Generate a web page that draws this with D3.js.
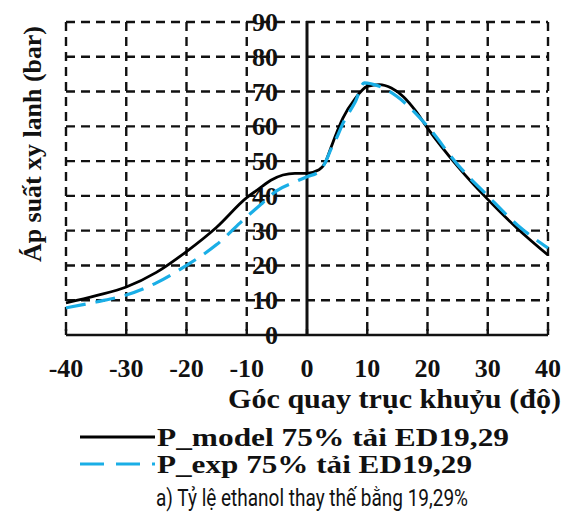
<!DOCTYPE html>
<html>
<head>
<meta charset="utf-8">
<script src="https://cdn.jsdelivr.net/npm/d3@7"></script>
<style>
  body { margin: 0; background: #fff; }
  svg text { font-family: "Liberation Serif", "Times New Roman", serif; font-weight: bold; fill: #111; }
  svg text.caption { font-family: Roboto, "Liberation Sans", sans-serif; font-weight: normal; }
</style>
</head>
<body>
<div id="chart"></div>
<script>
var width = 576;
var height = 518;

// crank angle (deg) and cylinder pressure (bar)
var modelAngle = [-40, -35, -30, -25, -20, -15, -10, -8, -6, -4, -2, 0, 2, 3, 4, 5, 6, 8, 10, 12, 14, 16, 18, 20, 25, 30, 35, 40];
var modelP     = [9.2, 11.3, 13.8, 18, 24, 31, 39.5, 42, 44.5, 46, 46.5, 46.5, 47.5, 49.5, 54, 58.5, 62.5, 68, 71.5, 72, 71, 68.5, 64.5, 59.5, 48.5, 39, 30.5, 23];
var expAngle   = [-40, -35, -30, -25, -20, -15, -10, -8, -5, -2, 0, 2, 3, 4, 5, 6, 8, 9.5, 12, 15, 20, 25, 30, 35, 40];
var expP       = [7.8, 9.5, 11.5, 15, 20, 26, 34, 37, 41.5, 44, 45.5, 47, 49.5, 53.5, 57, 61, 67, 72.5, 71.5, 68.5, 60, 49, 40, 31.5, 25];
var xTicks = [-40, -30, -20, -10, 0, 10, 20, 30, 40];
var yTicks = [0, 10, 20, 30, 40, 50, 60, 70, 80, 90];
var legendLabels = ["P_model 75% tải ED19,29", "P_exp 75% tải ED19,29"];

var svg = d3.select("#chart").append("svg")
    .attr("width", width)
    .attr("height", height);

var x = d3.scaleLinear().domain([-40, 40]).range([66, 548]);
var y = d3.scaleLinear().domain([0, 90]).range([335, 22]);

// dashed grid
var grid = svg.append("g").attr("stroke", "#111").attr("stroke-width", 2.4).attr("stroke-dasharray", "9,6");
grid.selectAll("line.v")
    .data(xTicks.filter(function(d) { return d !== 0; }))
    .enter().append("line")
    .attr("x1", function(d) { return x(d); })
    .attr("x2", function(d) { return x(d); })
    .attr("y1", y(90))
    .attr("y2", y(0));
grid.selectAll("line.h")
    .data(yTicks.filter(function(d) { return d !== 0; }))
    .enter().append("line")
    .attr("x1", x(-40))
    .attr("x2", x(40))
    .attr("y1", function(d) { return y(d); })
    .attr("y2", function(d) { return y(d); });

// bottom axis
svg.append("line")
    .attr("x1", x(-40)).attr("x2", x(40))
    .attr("y1", y(0)).attr("y2", y(0))
    .attr("stroke", "#111").attr("stroke-width", 2.6);
svg.selectAll("line.xt")
    .data(xTicks)
    .enter().append("line")
    .attr("x1", function(d) { return x(d); })
    .attr("x2", function(d) { return x(d); })
    .attr("y1", y(0))
    .attr("y2", y(0) - 6)
    .attr("stroke", "#111").attr("stroke-width", 2.4);

// vertical axis at 0
svg.append("line")
    .attr("x1", x(0)).attr("x2", x(0))
    .attr("y1", y(90) - 1).attr("y2", y(0))
    .attr("stroke", "#111").attr("stroke-width", 3);

svg.selectAll("text.xl")
    .data(xTicks)
    .enter().append("text")
    .attr("x", function(d) { return x(d); })
    .attr("y", 377)
    .attr("text-anchor", "middle")
    .attr("font-size", 26)
    .text(function(d) { return d < 0 ? "-" + Math.abs(d) : d; });

svg.selectAll("text.yl")
    .data(yTicks)
    .enter().append("text")
    .attr("x", 278)
    .attr("y", function(d) { return y(d) + 9; })
    .attr("text-anchor", "end")
    .attr("font-size", 26)
    .text(function(d) { return d; });

var line = d3.line()
    .x(function(d) { return x(d[0]); })
    .y(function(d) { return y(d[1]); })
    .curve(d3.curveMonotoneX);

svg.append("path")
    .datum(d3.zip(modelAngle, modelP))
    .attr("d", line)
    .attr("fill", "none")
    .attr("stroke", "#000")
    .attr("stroke-width", 2.8);

svg.append("path")
    .datum(d3.zip(expAngle, expP))
    .attr("d", line)
    .attr("fill", "none")
    .attr("stroke", "#1aaee6")
    .attr("stroke-width", 3.2)
    .attr("stroke-dasharray", "20,10");

// axis titles
svg.append("text")
    .attr("transform", "translate(41,144) rotate(-90)")
    .attr("text-anchor", "middle")
    .attr("font-size", 25)
    .attr("textLength", 236)
    .attr("lengthAdjust", "spacingAndGlyphs")
    .text("Áp suất xy lanh (bar)");

svg.append("text")
    .attr("x", 228)
    .attr("y", 408)
    .attr("font-size", 27)
    .attr("textLength", 333)
    .attr("lengthAdjust", "spacingAndGlyphs")
    .text("Góc quay trục khuỷu (độ)");

// legend
var legend = svg.selectAll("g.legend")
    .data(legendLabels)
    .enter().append("g")
    .attr("transform", function(d, i) { return "translate(80," + (437 + i * 27) + ")"; });
legend.append("line")
    .attr("x1", 0).attr("x2", 75)
    .attr("stroke", function(d, i) { return i ? "#1aaee6" : "#000"; })
    .attr("stroke-width", function(d, i) { return i ? 3.2 : 2.8; })
    .attr("stroke-dasharray", function(d, i) { return i ? "24,12" : null; });
legend.append("text")
    .attr("x", 77)
    .attr("y", 9)
    .attr("font-size", 26)
    .attr("textLength", function(d, i) { return i ? 315 : 352; })
    .attr("lengthAdjust", "spacingAndGlyphs")
    .text(function(d) { return d; });

svg.append("text")
    .attr("class", "caption")
    .attr("x", 156)
    .attr("y", 506)
    .attr("font-size", 24)
    .attr("textLength", 312)
    .attr("lengthAdjust", "spacingAndGlyphs")
    .text("a) Tỷ lệ ethanol thay thế bằng 19,29%");
</script>
</body>
</html>
